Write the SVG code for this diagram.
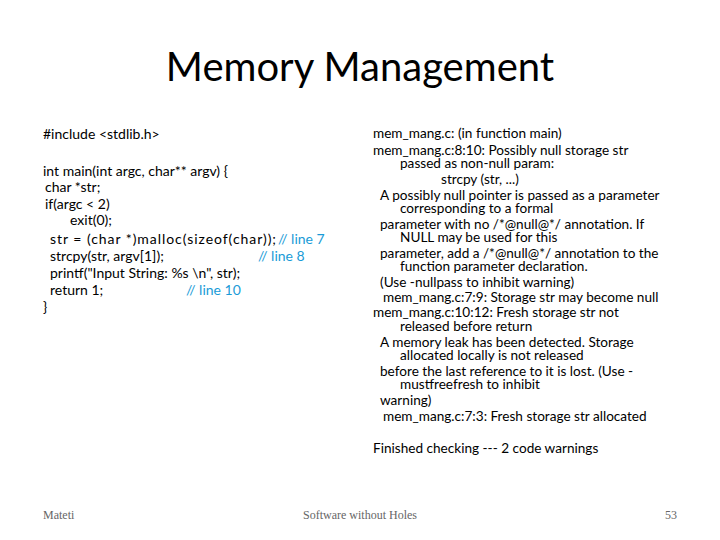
<svg xmlns="http://www.w3.org/2000/svg" width="720" height="540" viewBox="0 0 720 540">
<style>
text{font-family:Lato,"Open Sans",sans-serif;fill:#000}
.c{font-size:14px}
.r{font-size:13.6px}
.b{fill:#1a9bd7}
.f{font-family:"Liberation Serif",serif;font-size:12px;fill:#666}
</style>
<rect width="720" height="540" fill="#fff"/>
<text x="360" y="81" text-anchor="middle" font-size="40">Memory Management</text>
<g id="code" class="c">
<text x="43" y="139">#include &lt;stdlib.h&gt;</text>
<text x="43" y="176">int main(int argc, char** argv) {</text>
<text x="45" y="192">char *str;</text>
<text x="45" y="209">if(argc &lt; 2)</text>
<text x="70" y="225">exit(0);</text>
<text x="50" y="244" textLength="226" lengthAdjust="spacing">str = (char *)malloc(sizeof(char));</text><text x="278" y="244" class="b">// line 7</text>
<text x="50" y="261">strcpy(str, argv[1]);</text><text x="258" y="261" class="b">// line 8</text>
<text x="50" y="278">printf("Input String: %s \n", str);</text>
<text x="50" y="295">return 1;</text><text x="186" y="295" class="b">// line 10</text>
<text x="43" y="312">}</text>
</g>
<g id="output" class="r">
<text x="373" y="138">mem_mang.c: (in function main)</text>
<text x="373" y="155">mem_mang.c:8:10: Possibly null storage str</text>
<text x="400" y="168">passed as non-null param:</text>
<text x="441" y="184">strcpy (str, ...)</text>
<text x="380" y="200">A possibly null pointer is passed as a parameter</text>
<text x="400" y="213">corresponding to a formal</text>
<text x="380" y="229">parameter with no /*@null@*/ annotation.  If</text>
<text x="400" y="242">NULL may be used for this</text>
<text x="380" y="258">parameter, add a /*@null@*/ annotation to the</text>
<text x="400" y="271">function parameter declaration.</text>
<text x="380" y="287">(Use -nullpass to inhibit warning)</text>
<text x="383" y="302">mem_mang.c:7:9: Storage str may become null</text>
<text x="373" y="317">mem_mang.c:10:12: Fresh storage str not</text>
<text x="400" y="331">released before return</text>
<text x="380" y="347">A memory leak has been detected. Storage</text>
<text x="400" y="360">allocated locally is not released</text>
<text x="380" y="376">before the last reference to it is lost. (Use -</text>
<text x="400" y="389">mustfreefresh to inhibit</text>
<text x="380" y="405">warning)</text>
<text x="383" y="421">mem_mang.c:7:3: Fresh storage str allocated</text>
<text x="373" y="453">Finished checking --- 2 code warnings</text>
</g>
<g id="footer">
<text x="43" y="519" class="f">Mateti</text>
<text x="360" y="519" class="f" text-anchor="middle">Software without Holes</text>
<text x="677" y="519" class="f" text-anchor="end">53</text>
</g>
</svg>
